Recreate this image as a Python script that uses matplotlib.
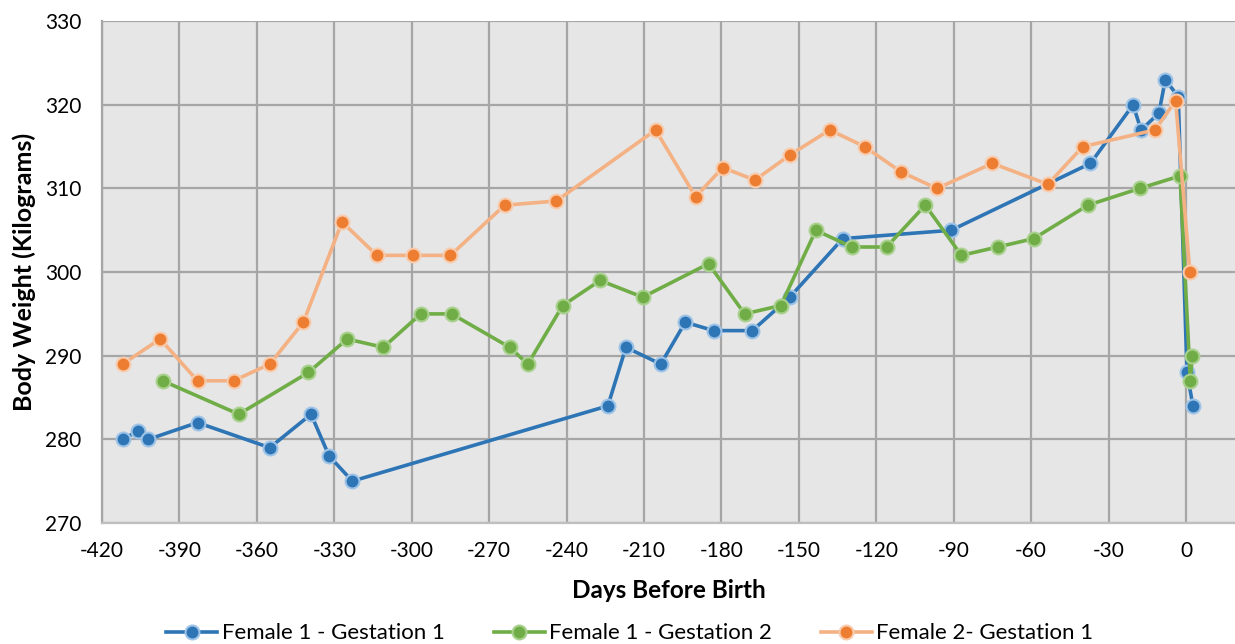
import numpy as np
import matplotlib
matplotlib.use('Agg')
import matplotlib.pyplot as plt

# Female 1 - Gestation 1
f1g1_days = [-412, -406, -402, -383, -355, -339, -332, -323, -224, -217, -203.5, -194,
             -183, -168, -153.5, -133, -91, -37, -20.5, -17.4, -10.5, -8, -3, 0.4, 2.7]
f1g1_wt = [280, 281, 280, 282, 279, 283, 278, 275, 284, 291, 289, 294,
           293, 293, 297, 304, 305, 313, 320, 317, 319, 323, 321, 288, 284]

# Female 1 - Gestation 2
f1g2_days = [-396.5, -367, -340, -325, -311, -296.5, -284.5, -262, -255, -241.5, -227,
             -210.5, -185, -171, -157, -143.4, -129.5, -116, -101, -87, -73, -59, -38,
             -18, -2.3, 1.7, 2.4]
f1g2_wt = [287, 283, 288, 292, 291, 295, 295, 291, 289, 296, 299,
           297, 301, 295, 296, 305, 303, 303, 308, 302, 303, 304, 308,
           310, 311.5, 287, 290]

# Female 2 - Gestation 1
f2g1_days = [-412, -397.5, -383, -369, -355, -342, -327, -313.5, -299.5, -285, -264, -244,
             -205.5, -190, -179.5, -167, -153.5, -138, -124.5, -110.5, -96.5, -75, -53.5,
             -40, -12, -4, 1.5]
f2g1_wt = [289, 292, 287, 287, 289, 294, 306, 302, 302, 302, 308, 308.5,
           317, 309, 312.5, 311, 314, 317, 315, 312, 310, 313, 310.5,
           315, 317, 320.5, 300]

plt.rcParams['font.family'] = ['Lato', 'DejaVu Sans']
plt.rcParams['axes.unicode_minus'] = False

fig = plt.figure(figsize=(12.35, 6.44), dpi=100)
ax = fig.add_axes([0.0826, 0.188, 0.9174, 0.779])
ax.set_facecolor('#E6E6E6')

ax.plot(f1g1_days, f1g1_wt, color='#2E75B6', lw=2.6, marker='o', ms=10,
        mfc='#2E75B6', mec='#9DC3E6', mew=1.5, label='Female 1 - Gestation 1', zorder=3)
ax.plot(f1g2_days, f1g2_wt, color='#70AD47', lw=2.6, marker='o', ms=10,
        mfc='#70AD47', mec='#A9D18E', mew=1.5, label='Female 1 - Gestation 2', zorder=4)
ax.plot(f2g1_days, f2g1_wt, color='#F4B183', lw=2.6, marker='o', ms=10,
        mfc='#ED7D31', mec='#F8CBAD', mew=1.5, label='Female 2- Gestation 1', zorder=5)

ax.set_xlim(-420, 19)
ax.set_ylim(270, 330)
ax.set_xticks(np.arange(-420, 1, 30))
ax.set_yticks(np.arange(270, 331, 10))
ax.grid(True, color='#A6A6A6', lw=1.6)
ax.set_axisbelow(True)
for s in ax.spines.values():
    s.set_visible(False)
ax.spines['left'].set_visible(True)
ax.spines['left'].set_color('#A6A6A6')
ax.spines['left'].set_linewidth(1.6)
ax.spines['bottom'].set_visible(True)
ax.spines['bottom'].set_color('#BFBFBF')
ax.spines['bottom'].set_linewidth(1.6)
ax.tick_params(axis='both', labelsize=15, colors='black', length=0)
ax.tick_params(axis='y', pad=15)
ax.tick_params(axis='x', pad=13)

ax.set_xlabel('Days Before Birth', fontsize=17.5, fontweight='bold', labelpad=13)
ax.set_ylabel('Body Weight (Kilograms)', fontsize=18, fontweight='bold', labelpad=6)

fig.legend(loc='lower center', ncol=3, frameon=False, fontsize=16,
           bbox_to_anchor=(0.51, -0.03), columnspacing=2.2, handlelength=2.3,
           handletextpad=0.2)

fig.savefig('out.png', dpi=100)
